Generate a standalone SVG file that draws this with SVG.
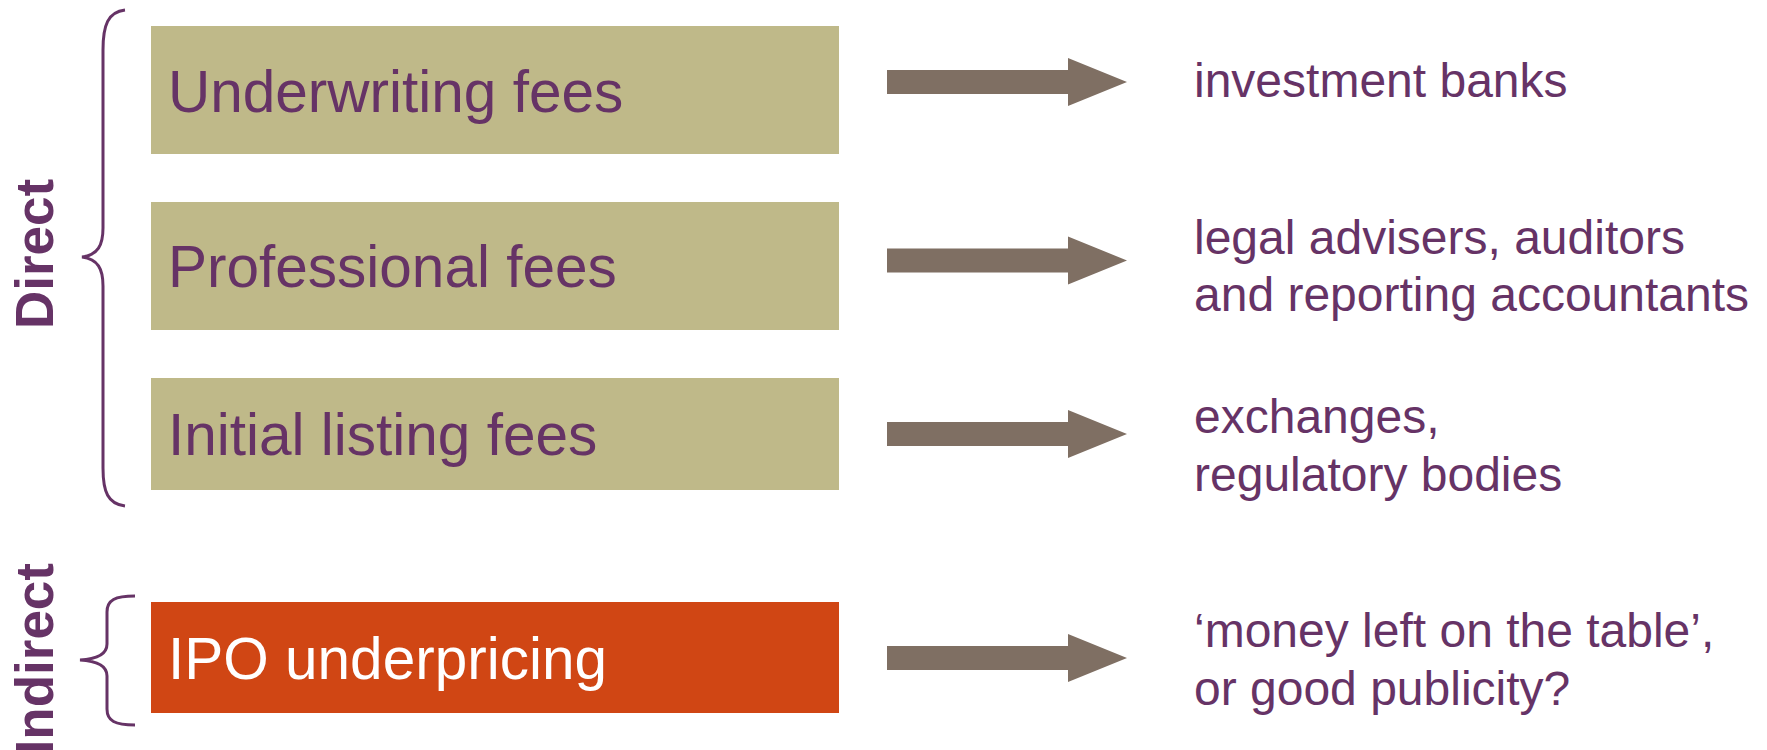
<svg xmlns="http://www.w3.org/2000/svg" width="1767" height="750" viewBox="0 0 1767 750">
<defs>
<style>
.box{fill:#BFB989}
.box2{fill:#D04614}
.lbl{font-family:"Liberation Sans",Arial,sans-serif;font-size:58.5px;fill:#663366}
.lblw{font-family:"Liberation Sans",Arial,sans-serif;font-size:58.5px;fill:#FFFFFF}
.rt{font-family:"Liberation Sans",Arial,sans-serif;font-size:48px;fill:#663366}
.side{font-family:"Liberation Sans",Arial,sans-serif;font-size:53px;font-weight:bold;fill:#663366}
.brace{fill:none;stroke:#663366;stroke-width:3}
.arr{fill:#7F6F63}
</style>
<path id="arrow" d="M0,-12 H181 V-24 L240,0 L181,24 V12 H0 Z"/>
</defs>
<rect width="1767" height="750" fill="#FFFFFF"/>

<g id="brace-direct">
<path class="brace" d="M125,10 C108,12 103,25 103,50 L103,228 C103,245 98,255 82,257 C98,259 103,269 103,286 L103,468 C103,492 108,504 125,506"/>
<text class="side" transform="translate(53,254) rotate(-90)" text-anchor="middle">Direct</text>
</g>
<g id="brace-indirect">
<path class="brace" d="M135,596 C115,596 107,600 107,612 L107,644 C107,654 98,659 80,660 C98,661 107,666 107,676 L107,709 C107,721 115,725 135,725"/>
<text class="side" transform="translate(53,563) rotate(-90)" text-anchor="end">Indirect</text>
</g>

<g id="node-underwriting">
<rect class="box" x="151" y="26" width="688" height="128"/>
<text class="lbl" x="168" y="112">Underwriting fees</text>
</g>
<g id="node-professional">
<rect class="box" x="151" y="202" width="688" height="128"/>
<text class="lbl" x="168" y="287">Professional fees</text>
</g>
<g id="node-listing">
<rect class="box" x="151" y="378" width="688" height="112"/>
<text class="lbl" x="168" y="455">Initial listing fees</text>
</g>
<g id="node-underpricing">
<rect class="box2" x="151" y="602" width="688" height="111"/>
<text class="lblw" x="168" y="679">IPO underpricing</text>
</g>

<g id="connectors">
<use href="#arrow" class="arr" transform="translate(887,82)"/>
<use href="#arrow" class="arr" transform="translate(887,260.5)"/>
<use href="#arrow" class="arr" transform="translate(887,434)"/>
<use href="#arrow" class="arr" transform="translate(887,658)"/>
</g>

<g id="node-banks">
<text class="rt" x="1194" y="97">investment banks</text>
</g>
<g id="node-advisers">
<text class="rt" x="1194" y="254">legal advisers, auditors</text>
<text class="rt" x="1194" y="311">and reporting accountants</text>
</g>
<g id="node-exchanges">
<text class="rt" x="1194" y="433">exchanges,</text>
<text class="rt" x="1194" y="491">regulatory bodies</text>
</g>
<g id="node-money">
<text class="rt" x="1194" y="647">‘money left on the table’,</text>
<text class="rt" x="1194" y="705">or good publicity?</text>
</g>
</svg>
